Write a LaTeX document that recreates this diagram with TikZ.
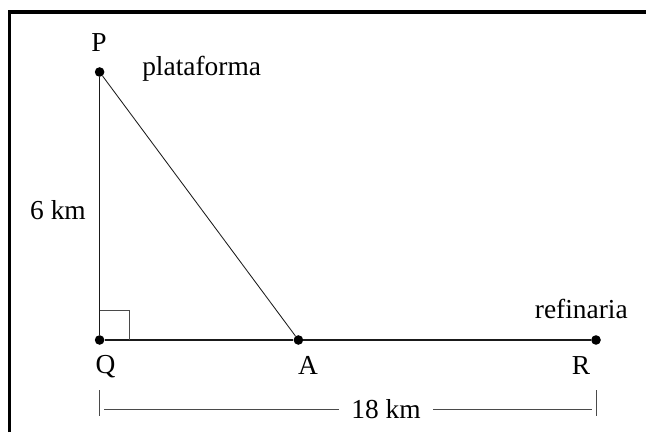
\documentclass[tikz,border=0pt]{standalone}
\usepackage{fontspec}
\setmainfont{Liberation Serif}
\usepackage{tikz}
\usetikzlibrary{arrows.meta,positioning}
\definecolor{Linha}{HTML}{1A1A1A}
\definecolor{Cota}{HTML}{4A4A4A}

\begin{document}
\begin{tikzpicture}[
  every node/.style={font=\fontsize{19.5}{23}\selectfont},
  point/.style={circle,fill=black,inner sep=0pt,minimum size=2.4mm},
  segment/.style={draw=Linha,line width=0.9pt},
  dimline/.style={draw=Cota,line width=0.6pt},
  tag/.style={anchor=base,inner sep=0pt},
  frame/.style={draw=black,line width=2.2pt}
]
  \useasboundingbox (0,0) rectangle (16.15,10.8);
  % Moldura (apenas topo e lado esquerdo visíveis).
  \draw[frame] (0.24,0) -- (0.24,10.5) -- (16.15,10.5);

  % Pontos do triângulo.
  \node[point] (P) at (2.49,9.0) {};
  \node[point] (Q) at (2.49,2.3) {};
  \node[point] (A) at (7.46,2.3) {};
  \node[point] (R) at (14.9,2.3) {};
  \draw[segment] (P) -- (Q);
  \draw[segment] (Q) -- (A) -- (R);
  \draw[segment,line width=0.6pt] (P) -- (A);
  \draw[line width=0.5pt,draw=Cota] ([yshift=0.74cm]Q.center) -| ([xshift=0.74cm]Q.center);

  % Rótulos.
  \node[tag] (lP) at (2.475,9.5) {P};
  \node[tag,anchor=base west] (lplat) at (3.55,8.9) {plataforma};
  \node[tag] (l6) at (1.45,5.3) {6 km};
  \node[tag,anchor=base east] (lref) at (15.7,2.825) {refinaria};
  \node[tag] (lQ) at (2.64,1.46) {Q};
  \node[tag] (lA) at (7.7,1.45) {A};
  \node[tag] (lR) at (14.525,1.45) {R};

  % Cota de 18 km.
  \coordinate (t1a) at (2.49,1.05);
  \coordinate (t1b) at (2.49,0.4);
  \coordinate (t2a) at (14.9,1.05);
  \coordinate (t2b) at (14.9,0.4);
  \coordinate (c1) at (2.6,0.5625);
  \coordinate (c2) at (14.8,0.5625);
  \node[inner sep=0pt,minimum width=2.35cm] (l18) at (9.65,0.5625) {\raisebox{-0.9ex}{18 km}};
  \draw[dimline] (t1a) -- (t1b);
  \draw[dimline] (t2a) -- (t2b);
  \draw[dimline] (c1) -- (l18.west);
  \draw[dimline] (l18.east) -- (c2);
\end{tikzpicture}
\end{document}
